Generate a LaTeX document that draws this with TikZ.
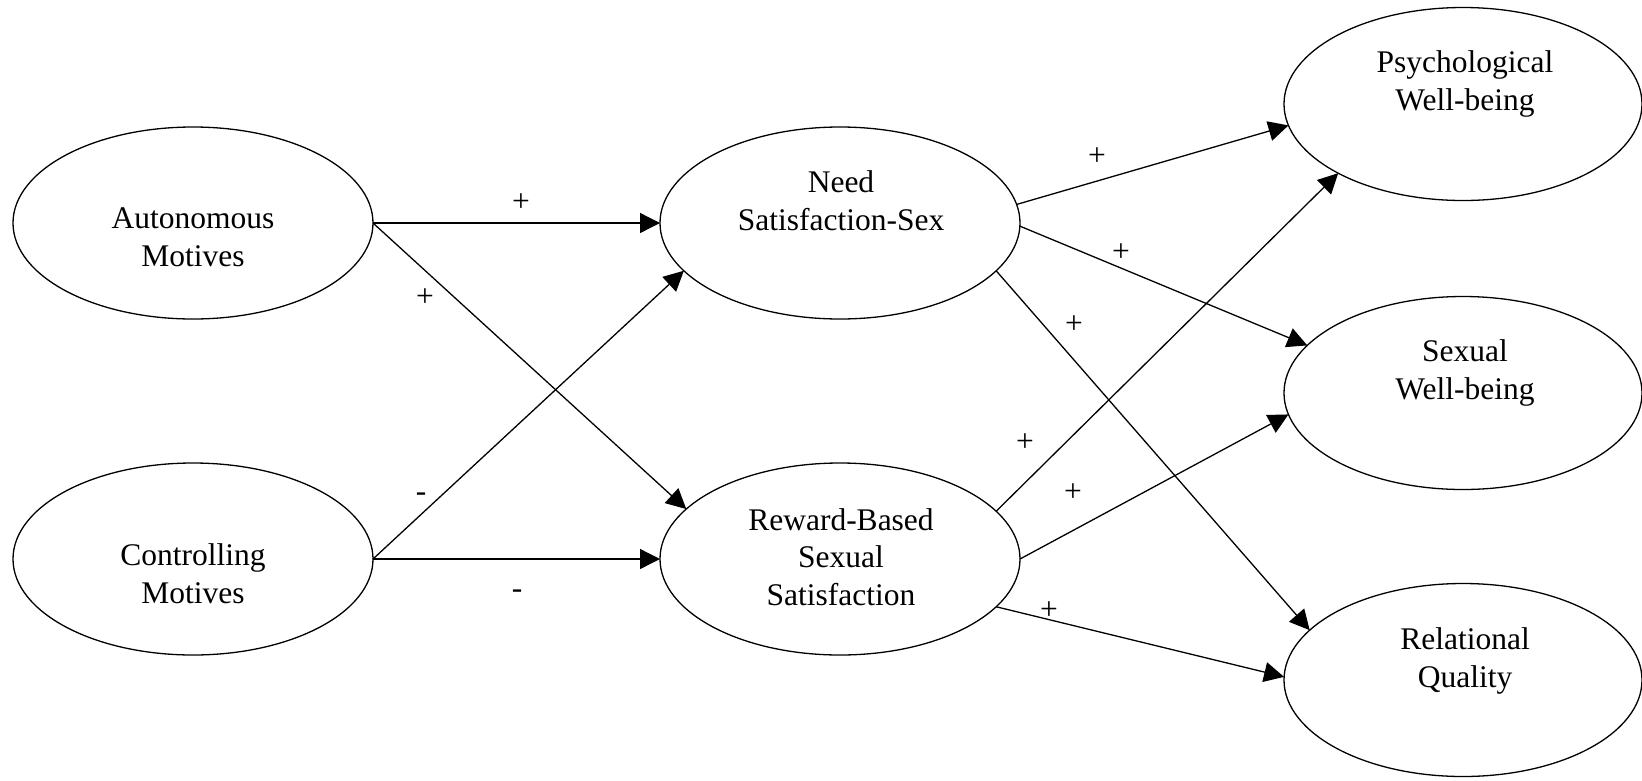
\documentclass[tikz,border=0pt]{standalone}
\usepackage{fontspec}
\setmainfont{Liberation Serif}
\usetikzlibrary{shapes.geometric,arrows.meta}
\begin{document}
\begin{tikzpicture}[x=1pt,y=-1pt,
  latent/.style={draw=black, line width=1.3pt, ellipse, minimum width=360pt, minimum height=192pt, inner sep=0pt, outer sep=0pt},
  rlatent/.style={latent, minimum width=358pt, minimum height=193pt},
  lbl/.style={align=center, inner sep=0pt, font=\fontsize{31.5}{37.5}\selectfont},
  sign/.style={inner sep=0pt, font=\fontsize{31.5}{37.5}\selectfont, text=black},
  arr/.style={line width=1.3pt, -{Triangle[length=20pt,width=20pt]}}
]
\fill[white] (0,0) rectangle (1642,780);
\useasboundingbox (0,0) rectangle (1642,780);

% latent variables
\node[latent] (aut) at (193,223) {};
\node[latent] (con) at (193,559) {};
\node[latent] (nss) at (840,223) {};
\node[latent] (rbs) at (840,559) {};
\node[rlatent] (pwb) at (1463,104) {};
\node[rlatent] (swb) at (1463,393) {};
\node[rlatent] (rq) at (1463,680) {};

% texts
\node[lbl] (autT) at (193,240) {\strut Autonomous\\\strut Motives};
\node[lbl] (conT) at (193,577) {\strut Controlling\\\strut Motives};
\node[lbl] (nssT) at (841,204) {\strut Need\\\strut Satisfaction-Sex};
\node[lbl] (rbsT) at (841,560) {\strut Reward-Based\\\strut Sexual\\\strut Satisfaction};
\node[lbl] (pwbT) at (1465,84) {\strut Psychological\\\strut Well-being};
\node[lbl] (swbT) at (1465,373) {\strut Sexual\\\strut Well-being};
\node[lbl] (rqT) at (1465,661) {\strut Relational\\\strut Quality};

% paths
\draw[arr] (aut.east) -- (nss.west);
\draw[arr] (aut.east) -- (rbs.162.3);
\draw[arr] (con.east) -- (nss.197.9);
\draw[arr] (con.east) -- (rbs.west);
\draw[arr] (nss.6.9) -- (pwb.187.6);
\draw[arr] (nss.-1) -- (swb.163);
\draw[arr] (nss.-17.7) -- (rq.162.7);
\draw[arr] (rbs.17) -- (pwb.209.5);
\draw[arr] (rbs.0) -- (swb.187.6);
\draw[arr] (rbs.-17) -- (rq.179);

% signs
\node[sign] (s1) at (521,203) {+};
\node[sign] (s2) at (425,298) {+};
\node[sign] (s3) at (421,497) {-};
\node[sign] (s4) at (517,594) {-};
\node[sign] (s5) at (1097,157) {+};
\node[sign] (s6) at (1121,253) {+};
\node[sign] (s7) at (1074,325) {+};
\node[sign] (s8) at (1025,443) {+};
\node[sign] (s9) at (1073,493) {+};
\node[sign] (s10) at (1049,611) {+};
\end{tikzpicture}
\end{document}
